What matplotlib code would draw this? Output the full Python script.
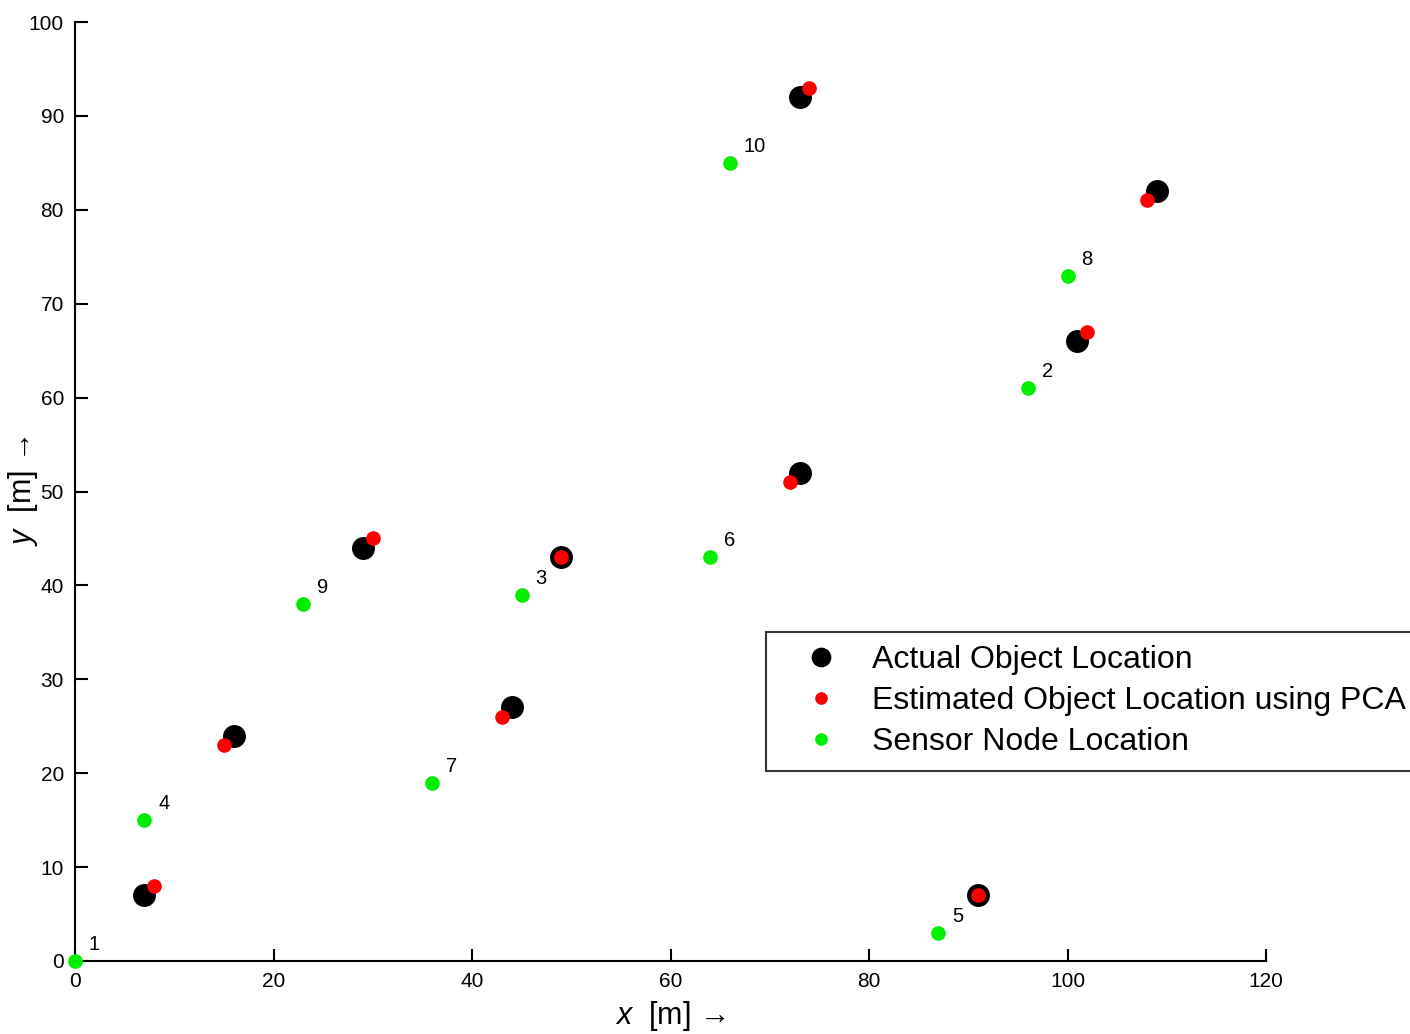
import matplotlib
matplotlib.use("Agg")
import matplotlib.pyplot as plt

plt.rcParams['font.family'] = ['Liberation Sans', 'DejaVu Sans']
plt.rcParams['mathtext.fontset'] = 'custom'
plt.rcParams['mathtext.it'] = 'Liberation Sans:italic'
plt.rcParams['mathtext.rm'] = 'Liberation Sans'

actual_x = [7, 16, 29, 44, 49, 73, 73, 91, 101, 109]
actual_y = [7, 24, 44, 27, 43, 52, 92, 7, 66, 82]
est_x = [8, 15, 30, 43, 49, 72, 74, 91, 102, 108]
est_y = [8, 23, 45, 26, 43, 51, 93, 7, 67, 81]
sensor_x = [0, 96, 45, 7, 87, 64, 36, 100, 23, 66]
sensor_y = [0, 61, 39, 15, 3, 43, 19, 73, 38, 85]
sensor_labels = ['1', '2', '3', '4', '5', '6', '7', '8', '9', '10']

fig = plt.figure(figsize=(14.1, 10.34), dpi=100)
ax = fig.add_axes([75/1410, 73/1034, (1266-75)/1410, (961-22)/1034])

ax.plot(actual_x, actual_y, 'o', color='black', markersize=15.5, linestyle='none',
        label='Actual Object Location', clip_on=False, zorder=3)
ax.plot(est_x, est_y, 'o', color='red', markersize=9.5, linestyle='none',
        label='Estimated Object Location using PCA', clip_on=False, zorder=4)
ax.plot(sensor_x, sensor_y, 'o', color='#00ee00', markersize=9.5, linestyle='none',
        label='Sensor Node Location', clip_on=False, zorder=5)

for sx, sy, lab in zip(sensor_x, sensor_y, sensor_labels):
    ax.annotate(lab, (sx, sy), xytext=(10, 5), textcoords='offset points',
                fontsize=14.5, ha='left', va='bottom')

ax.set_xlim(0, 120)
ax.set_ylim(0, 100)
ax.set_xticks(range(0, 121, 20))
ax.set_yticks(range(0, 101, 10))
ax.spines['top'].set_visible(False)
ax.spines['right'].set_visible(False)
for s in ['left', 'bottom']:
    ax.spines[s].set_linewidth(1.5)
ax.tick_params(direction='in', length=9, width=1.5, labelsize=15, pad=8)

ax.set_xlabel(r'$x$  [m] →', fontsize=22, labelpad=6)
ax.set_ylabel(r'$y$  [m] →', fontsize=22)
ax.yaxis.set_label_coords((40 - 75) / 1191, (961 - 490) / 939)

leg = fig.legend(loc='upper left', bbox_to_anchor=(766/1410, 1 - 632/1034),
                 fontsize=23, frameon=True, fancybox=False, edgecolor='black',
                 borderpad=0.42, handletextpad=0.3, labelspacing=0.34,
                 markerscale=0.85, borderaxespad=0, handlelength=2.6)
leg.get_frame().set_linewidth(1.5)

fig.savefig('out.png', dpi=100)
